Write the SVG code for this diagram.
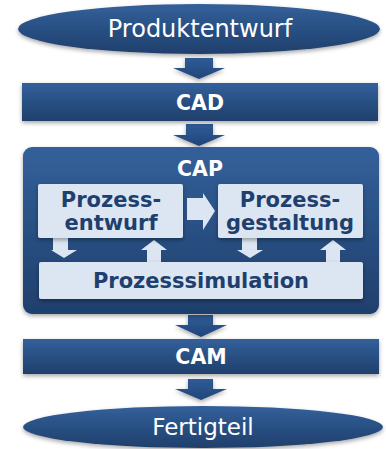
<svg xmlns="http://www.w3.org/2000/svg" width="386" height="449" viewBox="0 0 386 449">
<defs>
<linearGradient id="gb" x1="0" y1="0" x2="0" y2="1">
<stop offset="0" stop-color="#33609A"/>
<stop offset="1" stop-color="#1F3F6C"/>
</linearGradient>
<linearGradient id="ga" x1="0" y1="0" x2="0" y2="1">
<stop offset="0" stop-color="#2F5C96"/>
<stop offset="1" stop-color="#22457A"/>
</linearGradient>
<filter id="sh" x="-10%" y="-20%" width="120%" height="150%">
<feDropShadow dx="0" dy="2" stdDeviation="2" flood-color="#000" flood-opacity="0.35"/>
</filter>
</defs>
<style>
.dark{fill:url(#gb);filter:url(#sh)}
.light{fill:#DCE6F2;filter:url(#sh)}
.arr{fill:url(#ga);filter:url(#sh)}
.larr{fill:#DCE6F2}
.tw{font-family:"DejaVu Sans",Verdana,sans-serif;fill:#FFFFFF;text-anchor:middle}
.tb{font-family:"DejaVu Sans",Verdana,sans-serif;font-weight:bold;text-anchor:middle}
.td{font-family:"DejaVu Sans",Verdana,sans-serif;font-weight:bold;fill:#1F3F6E;text-anchor:middle}
</style>
<g id="connectors">
<polygon class="arr" points="185,58 213,58 213,68 225,68 199,79 173,68 185,68"/>
<polygon class="arr" points="186,124 213,124 213,135 225,135 199,146 173,135 186,135"/>
<polygon class="arr" points="188,315 213,315 213,325 227,325 201,337 175,325 188,325"/>
<polygon class="arr" points="188,379 213,379 213,389 227,389 201,400 175,389 188,389"/>
</g>
<g id="produktentwurf">
<ellipse class="dark" cx="199" cy="29" rx="181" ry="25"/>
<text class="tw" x="200" y="37" font-size="24">Produktentwurf</text>
</g>
<g id="cad">
<rect class="dark" x="22" y="83" width="356" height="38"/>
<text class="tb" x="200" y="110" font-size="20.5" fill="#FFFFFF">CAD</text>
</g>
<g id="cap">
<rect class="dark" x="23" y="147" width="356" height="167" rx="9"/>
<text class="tb" x="200" y="176" font-size="20.5" fill="#FFFFFF">CAP</text>
<g id="cap-arrows">
<polygon class="larr" points="187,198 203,198 203,193 215,211 203,230 203,220 187,220"/>
<polygon class="larr" points="53,238 68,238 68,250 77,250 64,258 51,250 53,250"/>
<polygon class="larr" points="147,262 161,262 161,250 167,250 154,240 141,250 147,250"/>
<polygon class="larr" points="242,238 257,238 257,250 263,250 250,258 237,250 242,250"/>
<polygon class="larr" points="326,262 340,262 340,250 346,250 333,240 320,250 326,250"/>
</g>
</g>
<g id="prozessentwurf">
<rect class="light" x="38" y="184" width="145" height="54" rx="2"/>
<text class="td" x="111" y="207" font-size="21">Prozess-</text>
<text class="td" x="111" y="230" font-size="21">entwurf</text>
</g>
<g id="prozessgestaltung">
<rect class="light" x="218" y="184" width="145" height="54" rx="2"/>
<text class="td" x="290" y="207" font-size="21">Prozess-</text>
<text class="td" x="290" y="230" font-size="21">gestaltung</text>
</g>
<g id="prozesssimulation">
<rect class="light" x="39" y="262" width="324" height="37" rx="2"/>
<text class="td" x="201" y="288" font-size="21">Prozesssimulation</text>
</g>
<g id="cam">
<rect class="dark" x="23" y="339" width="356" height="35"/>
<text class="tb" x="201" y="364" font-size="20.5" fill="#FFFFFF">CAM</text>
</g>
<g id="fertigteil">
<ellipse class="dark" cx="203" cy="427" rx="180" ry="21"/>
<text class="tw" x="203" y="435" font-size="23">Fertigteil</text>
</g>
</svg>
